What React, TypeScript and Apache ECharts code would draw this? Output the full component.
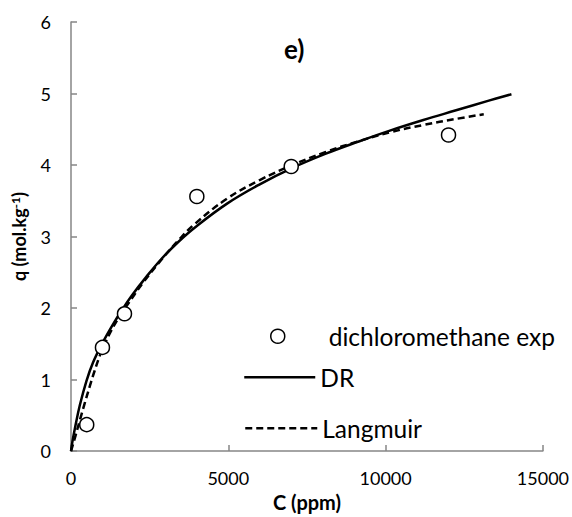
import React, { useEffect, useRef } from "react";
import * as echarts from "echarts";

// Experimental points (C in ppm, q in mol/kg)
const expC = [500, 1000, 1700, 4000, 7000, 12000];
const expQ = [0.37, 1.45, 1.92, 3.56, 3.98, 4.42];

// DR fitted curve
const drC = [0, 40, 125, 280, 490, 700, 1000, 1320, 1630, 1940, 2400, 2880, 3400, 3920, 4960, 6000, 7040, 8080, 9120, 10160, 11200, 12240, 13280, 14000];
const drQ = [0, 0.12, 0.32, 0.64, 0.98, 1.24, 1.51, 1.76, 1.98, 2.18, 2.44, 2.69, 2.92, 3.12, 3.46, 3.73, 3.96, 4.155, 4.325, 4.485, 4.63, 4.765, 4.9, 4.99];

// Langmuir fitted curve
const lgC = [0, 140, 280, 437, 593, 749, 957, 1216, 1480, 1737, 2300, 2880, 3400, 3920, 4960, 6000, 7040, 8080, 9120, 10160, 11200, 12240, 13120];
const lgQ = [0, 0.21, 0.43, 0.67, 0.9, 1.12, 1.38, 1.63, 1.84, 2.01, 2.36, 2.68, 2.94, 3.17, 3.53, 3.79, 4.0, 4.18, 4.33, 4.46, 4.56, 4.645, 4.71];

const xTicks = { min: 0, max: 15000, interval: 5000 };
const yTicks = { min: 0, max: 6, interval: 1 };

const FONT = "Lato";
const AXIS_COLOR = "#868686";

export default function App() {
  const ref = useRef<HTMLDivElement>(null);

  useEffect(() => {
    if (!ref.current) return;
    const chart = echarts.init(ref.current, undefined, { renderer: "svg" });
    const zip = (xs: number[], ys: number[]) => xs.map((x, i) => [x, ys[i]]);
    const LFS = 24.5;
    const legendText = { fontFamily: FONT, fontSize: LFS, color: "#000" };

    chart.setOption({
      animation: false,
      backgroundColor: "#fff",
      textStyle: { fontFamily: FONT },
      title: {
        text: "e)",
        left: 279,
        top: 31,
        textStyle: { fontFamily: FONT, fontSize: 26, fontWeight: "bold", color: "#000" },
      },
      grid: { left: 71, right: 20, top: 22, bottom: 65, containLabel: false },
      legend: [
        {
          data: ["dichloromethane exp"],
          left: 270,
          top: 336 - LFS / 2,
          padding: 0,
          itemWidth: 14,
          itemHeight: 14,
          textStyle: { ...legendText, padding: [0, 0, 0, 39] },
          itemStyle: { color: "#fff", borderColor: "#000", borderWidth: 1.5, opacity: 1 },
        },
        {
          data: ["DR"],
          left: 243,
          top: 377 - LFS / 2,
          padding: 0,
          itemWidth: 71,
          itemHeight: 14,
          textStyle: legendText,
          itemStyle: { color: "rgba(0,0,0,0)", borderWidth: 0, opacity: 0 },
          lineStyle: { width: 2.5, color: "#000", opacity: 1 },
        },
        {
          data: ["Langmuir"],
          left: 244,
          top: 428 - LFS / 2,
          padding: 0,
          itemWidth: 72,
          itemHeight: 14,
          textStyle: legendText,
          itemStyle: { color: "rgba(0,0,0,0)", borderWidth: 0, opacity: 0 },
          lineStyle: { width: 2.5, color: "#000", opacity: 1 },
        },
      ],
      xAxis: {
        type: "value",
        ...xTicks,
        name: "C (ppm)",
        nameLocation: "middle",
        nameGap: 37,
        nameTextStyle: { fontFamily: FONT, fontSize: 20, fontWeight: "bold", color: "#000" },
        axisLine: { show: true, lineStyle: { color: AXIS_COLOR, width: 1.5 } },
        axisTick: { show: true, inside: true, length: 6, lineStyle: { color: AXIS_COLOR, width: 1.5 } },
        axisLabel: { fontFamily: FONT, fontSize: 18, color: "#000", margin: 18, formatter: (v: number) => String(v) },
        splitLine: { show: false },
      },
      yAxis: {
        type: "value",
        ...yTicks,
        name: "q (mol.kg{sup|-1})",
        nameLocation: "middle",
        nameRotate: 90,
        nameGap: 42,
        nameTextStyle: {
          fontFamily: FONT,
          fontSize: 18,
          fontWeight: "bold",
          color: "#000",
          rich: {
            sup: { fontFamily: FONT, fontSize: 12, fontWeight: "bold", color: "#000", verticalAlign: "top", padding: [0, 0, 8, 0] },
          },
        },
        axisLine: { show: true, lineStyle: { color: AXIS_COLOR, width: 1.5 } },
        axisTick: { show: true, inside: true, length: 6, lineStyle: { color: AXIS_COLOR, width: 1.5 } },
        axisLabel: { fontFamily: FONT, fontSize: 18, color: "#000", margin: 20 },
        splitLine: { show: false },
      },
      series: [
        {
          name: "dichloromethane exp",
          type: "scatter",
          data: zip(expC, expQ),
          symbol: "circle",
          symbolSize: 14,
          itemStyle: { color: "#fff", borderColor: "#000", borderWidth: 1.5, opacity: 1 },
          emphasis: { disabled: true },
          z: 5,
        },
        {
          name: "DR",
          type: "line",
          data: zip(drC, drQ),
          smooth: 0.4,
          symbol: "none",
          showSymbol: false,
          lineStyle: { color: "#000", width: 2.5, type: "solid" },
          itemStyle: { color: "#000" },
          emphasis: { disabled: true },
        },
        {
          name: "Langmuir",
          type: "line",
          data: zip(lgC, lgQ),
          smooth: 0.4,
          symbol: "none",
          showSymbol: false,
          lineStyle: { color: "#000", width: 2.5, type: [7, 4] },
          itemStyle: { color: "#000" },
          emphasis: { disabled: true },
        },
      ],
    });
    return () => chart.dispose();
  }, []);

  return <div ref={ref} style={{ width: 572, height: 517, position: "absolute", left: 0, top: 0 }} />;
}
